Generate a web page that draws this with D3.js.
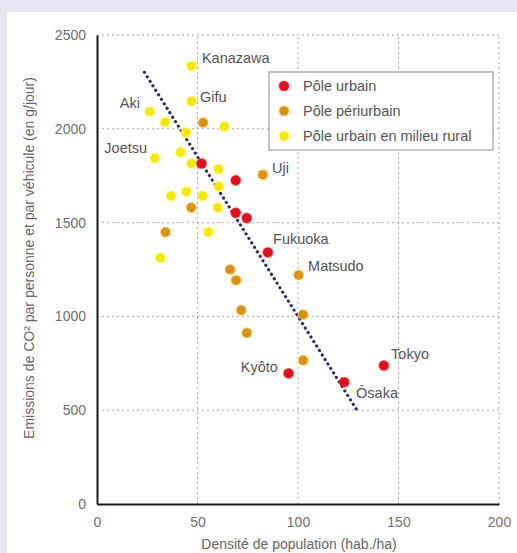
<!DOCTYPE html>
<html><head><meta charset="utf-8">
<script src="https://cdn.jsdelivr.net/npm/d3@7/dist/d3.min.js"></script>
<style>
html,body{margin:0;padding:0;background:#e6e6f5;}
svg{display:block;}
</style></head>
<body>
<svg id="chart" width="517" height="553"></svg>
<script>
// ---- Data ----
const seriesNames = ["Pôle urbain", "Pôle périurbain", "Pôle urbain en milieu rural"];
const seriesColors = ["#d8121f", "#d4921a", "#f3e51e"];

// Pôle urbain (density hab./ha, g/jour)
const urbainX = [52, 69, 69, 74.5, 85, 95.3, 123, 142.7];
const urbainY = [1815, 1725, 1552, 1524, 1341, 696, 649, 738];

// Pôle périurbain
const periX = [52.8, 82.5, 46.9, 34.1, 66.2, 69.2, 100.3, 71.8, 102.5, 74.5, 102.6];
const periY = [2033, 1755, 1580, 1449, 1250, 1193, 1220, 1033, 1010, 912, 766];

// Pôle urbain en milieu rural
const ruralX = [47, 47, 26.2, 33.8, 44.2, 63.4, 28.8, 41.6, 47, 60.4, 60.6, 36.8, 44.4, 52.6, 60.1, 55.5, 31.5];
const ruralY = [2335, 2147, 2091, 2036, 1980, 2012, 1843, 1875, 1815, 1785, 1693, 1642, 1665, 1642, 1580, 1449, 1312];

// Trend line endpoints (data units)
const trendX = [23.6, 130];
const trendY = [2301, 489];

// City labels (annotation anchor in data units)
const labelNames  = ["Kanazawa", "Gifu", "Aki", "Joetsu", "Uji", "Fukuoka", "Matsudo", "Kyôto", "Ôsaka", "Tokyo"];
const labelX      = [52.2, 51.2, 21.4, 24.9, 87.1, 87.6, 105, 90, 128.9, 146.3];
const labelY      = [2377, 2170, 2138, 1898, 1791, 1413, 1269, 730, 592, 800];
const labelAnchor = ["start","start","end","end","start","start","start","end","start","start"];

const xTicks = [0, 50, 100, 150, 200];
const yTicks = [0, 500, 1000, 1500, 2000, 2500];
const xTitle = "Densité de population (hab./ha)";
const yTitle = "Emissions de CO² par personne et par véhicule (en g/jour)";

// ---- Drawing ----
const svg = d3.select("#chart");
const FONT = "'Liberation Sans', Arial, sans-serif";

svg.append("rect").attr("x", 7).attr("y", 12).attr("width", 510).attr("height", 541).attr("fill", "#ffffff");

const x = d3.scaleLinear().domain([0, 200]).range([97, 499]);
const y = d3.scaleLinear().domain([0, 2500]).range([504, 35]);

// grid
const grid = svg.append("g").attr("stroke", "#a8a8a8").attr("stroke-width", 1).attr("stroke-dasharray", "2,3");
grid.selectAll("line.v").data(xTicks.filter(d => d > 0)).join("line")
  .attr("x1", d => x(d)).attr("x2", d => x(d)).attr("y1", y(0)).attr("y2", y(2500));
grid.selectAll("line.h").data(yTicks.filter(d => d > 0)).join("line")
  .attr("x1", x(0)).attr("x2", x(200)).attr("y1", d => y(d)).attr("y2", d => y(d));

// axes
const fmt = d3.format("d");
const gx = svg.append("g").attr("transform", `translate(0,${y(0)})`)
  .call(d3.axisBottom(x).tickValues(xTicks).tickFormat(fmt).tickSize(0).tickPadding(13));
const gy = svg.append("g").attr("transform", `translate(${x(0)},0)`)
  .call(d3.axisLeft(y).tickValues(yTicks).tickFormat(fmt).tickSize(0).tickPadding(11));
[gx, gy].forEach(g => {
  g.select(".domain").attr("stroke", "#1a1a1a").attr("stroke-width", 2);
  g.selectAll("text").attr("font-family", FONT).attr("font-size", 14).attr("fill", "#707070");
});

// titles
svg.append("text").attr("x", 299).attr("y", 549).attr("text-anchor", "middle")
  .attr("font-family", FONT).attr("font-size", 14).attr("fill", "#666").text(xTitle);
svg.append("text").attr("transform", `translate(34,258) rotate(-90)`).attr("text-anchor", "middle")
  .attr("font-family", FONT).attr("font-size", 14).attr("fill", "#666").text(yTitle);

// trend line
svg.append("line")
  .attr("x1", x(trendX[0])).attr("y1", y(trendY[0]))
  .attr("x2", x(trendX[1])).attr("y2", y(trendY[1]))
  .attr("stroke", "#2e2e72").attr("stroke-width", 3.2)
  .attr("stroke-linecap", "round").attr("stroke-dasharray", "0.1,5.2");

// points
const series = [
  {xs: periX, ys: periY, c: seriesColors[1]},
  {xs: ruralX, ys: ruralY, c: seriesColors[2]},
  {xs: urbainX, ys: urbainY, c: seriesColors[0]}
];
series.forEach(s => {
  svg.append("g").selectAll("circle").data(s.xs.map((v, i) => [v, s.ys[i]])).join("circle")
    .attr("cx", d => x(d[0])).attr("cy", d => y(d[1])).attr("r", 4.8)
    .attr("fill", s.c).attr("stroke", d3.color(s.c).brighter(0.6)).attr("stroke-opacity", 0.6).attr("stroke-width", 1.5);
});

// city labels
svg.append("g").selectAll("text").data(labelNames).join("text")
  .attr("x", (d, i) => x(labelX[i])).attr("y", (d, i) => y(labelY[i]))
  .attr("dy", "0.35em").attr("text-anchor", (d, i) => labelAnchor[i])
  .attr("font-family", FONT).attr("font-size", 14.5).attr("fill", "#555").text(d => d);

// legend
const lg = svg.append("g").attr("transform", "translate(269,72)");
lg.append("rect").attr("width", 224).attr("height", 78).attr("fill", "#fff").attr("stroke", "#8a8a8a").attr("stroke-width", 1);
seriesNames.forEach((n, i) => {
  const row = lg.append("g").attr("transform", `translate(0,${14 + i * 25})`);
  row.append("circle").attr("cx", 15).attr("cy", 0).attr("r", 4.8).attr("fill", seriesColors[i])
    .attr("stroke", d3.color(seriesColors[i]).brighter(0.6)).attr("stroke-opacity", 0.6).attr("stroke-width", 1.5);
  row.append("text").attr("x", 34).attr("y", 0).attr("dy", "0.35em")
    .attr("font-family", FONT).attr("font-size", 14.5).attr("fill", "#555").text(n);
});
</script>
</body></html>
